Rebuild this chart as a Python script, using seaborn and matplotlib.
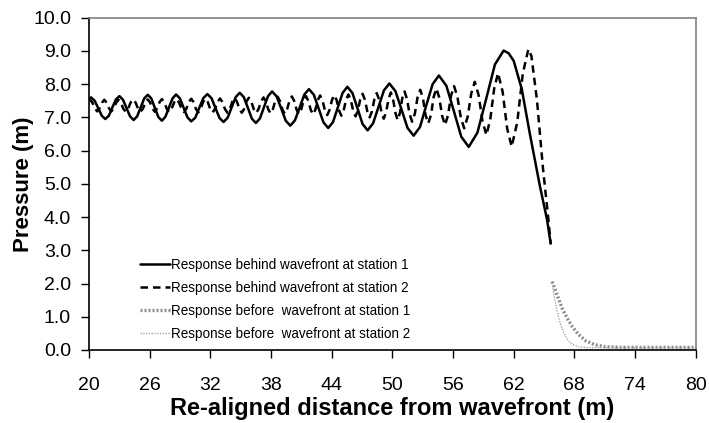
import matplotlib
matplotlib.use('Agg')
import matplotlib.pyplot as plt
import pandas as pd
import seaborn as sns

# Response behind wavefront, station 1
x_behind_1 = [20.0, 20.2, 20.55, 20.9, 21.25, 21.6, 21.95, 22.3, 22.65, 23.0,
              23.35, 23.7, 24.05, 24.4, 24.75, 25.1, 25.45, 25.8, 26.15, 26.5,
              26.85, 27.2, 27.55, 27.9, 28.25, 28.6, 28.98, 29.35, 29.73, 30.1,
              30.5, 30.9, 31.3, 31.7, 32.1, 32.5, 32.9, 33.3, 33.7, 34.1,
              34.5, 34.9, 35.3, 35.7, 36.1, 36.5, 36.9, 37.3, 37.7, 38.1,
              38.55, 39.0, 39.45, 39.9, 40.36, 40.83, 41.29, 41.75, 42.23, 42.7,
              43.18, 43.65, 44.13, 44.6, 45.08, 45.55, 46.05, 46.55, 47.05, 47.55,
              48.09, 48.63, 49.16, 49.7, 50.3, 50.9, 51.5, 52.1, 52.73, 53.35,
              53.98, 54.6, 55.34, 56.08, 56.81, 57.55, 58.41, 59.28, 60.14, 61.0,
              61.5, 62.0, 62.8, 63.6, 64.6, 65.3, 65.66]
y_behind_1 = [7.58, 7.60, 7.50, 7.28, 7.05, 6.95, 7.05, 7.30, 7.54, 7.64,
              7.53, 7.28, 7.03, 6.92, 7.03, 7.30, 7.57, 7.68, 7.57, 7.29,
              7.01, 6.90, 7.02, 7.30, 7.57, 7.69, 7.57, 7.29, 7.00, 6.88,
              6.99, 7.29, 7.58, 7.70, 7.58, 7.28, 6.98, 6.86, 6.99, 7.30,
              7.61, 7.74, 7.61, 7.29, 6.96, 6.83, 6.97, 7.31, 7.64, 7.78,
              7.63, 7.27, 6.90, 6.75, 6.91, 7.30, 7.69, 7.85, 7.68, 7.27,
              6.85, 6.68, 6.86, 7.30, 7.74, 7.92, 7.73, 7.27, 6.80, 6.61,
              6.82, 7.32, 7.81, 8.02, 7.79, 7.24, 6.68, 6.45, 6.71, 7.36,
              8.00, 8.26, 7.95, 7.19, 6.42, 6.11, 6.54, 7.56, 8.59, 9.01,
              8.93, 8.70, 7.85, 6.50, 4.92, 3.92, 3.20]

# Response behind wavefront, station 2
x_behind_2 = [20.0, 20.1, 20.33, 20.57, 20.8, 21.03, 21.27, 21.5, 21.73, 21.97,
              22.2, 22.43, 22.67, 22.9, 23.14, 23.38, 23.62, 23.86, 24.11, 24.35,
              24.59, 24.84, 25.08, 25.32, 25.56, 25.8, 26.03, 26.27, 26.5, 26.73,
              26.97, 27.2, 27.44, 27.68, 27.92, 28.16, 28.41, 28.65, 28.89, 29.14,
              29.38, 29.62, 29.86, 30.1, 30.33, 30.57, 30.8, 31.03, 31.27, 31.5,
              31.74, 31.98, 32.22, 32.46, 32.71, 32.95, 33.19, 33.44, 33.68, 33.92,
              34.16, 34.4, 34.63, 34.87, 35.1, 35.33, 35.57, 35.8, 36.04, 36.28,
              36.52, 36.76, 37.01, 37.25, 37.48, 37.72, 37.95, 38.18, 38.42, 38.65,
              38.88, 39.12, 39.35, 39.58, 39.82, 40.05, 40.28, 40.52, 40.75, 40.98,
              41.22, 41.45, 41.68, 41.92, 42.15, 42.38, 42.62, 42.85, 43.08, 43.32,
              43.55, 43.78, 44.02, 44.25, 44.48, 44.72, 44.95, 45.18, 45.42, 45.65,
              45.88, 46.12, 46.35, 46.58, 46.82, 47.05, 47.28, 47.52, 47.75, 47.98,
              48.22, 48.45, 48.68, 48.92, 49.15, 49.38, 49.62, 49.85, 50.07, 50.3,
              50.52, 50.75, 50.97, 51.2, 51.45, 51.7, 51.95, 52.22, 52.48, 52.75,
              53.02, 53.28, 53.55, 53.82, 54.08, 54.35, 54.63, 54.92, 55.2, 55.5,
              55.8, 56.1, 56.43, 56.77, 57.1, 57.45, 57.8, 58.15, 58.53, 58.92,
              59.3, 59.68, 60.07, 60.45, 60.9, 61.35, 61.8, 62.35, 62.9, 63.45,
              63.75, 64.3, 64.9, 65.4, 65.66]
y_behind_2 = [7.50, 7.53, 7.44, 7.27, 7.18, 7.27, 7.44, 7.53, 7.44, 7.27,
              7.18, 7.27, 7.44, 7.53, 7.44, 7.26, 7.17, 7.26, 7.45, 7.54,
              7.45, 7.26, 7.17, 7.26, 7.45, 7.54, 7.45, 7.26, 7.17, 7.27,
              7.46, 7.55, 7.45, 7.26, 7.16, 7.26, 7.45, 7.55, 7.45, 7.26,
              7.16, 7.26, 7.46, 7.56, 7.46, 7.25, 7.15, 7.25, 7.46, 7.56,
              7.46, 7.25, 7.15, 7.26, 7.47, 7.57, 7.46, 7.25, 7.14, 7.25,
              7.47, 7.58, 7.47, 7.25, 7.14, 7.25, 7.48, 7.59, 7.48, 7.25,
              7.13, 7.25, 7.48, 7.60, 7.48, 7.24, 7.12, 7.25, 7.50, 7.62,
              7.49, 7.24, 7.11, 7.24, 7.50, 7.63, 7.50, 7.23, 7.10, 7.24,
              7.51, 7.64, 7.50, 7.23, 7.09, 7.23, 7.52, 7.66, 7.51, 7.22,
              7.07, 7.22, 7.52, 7.67, 7.52, 7.21, 7.05, 7.21, 7.53, 7.69,
              7.53, 7.20, 7.03, 7.20, 7.54, 7.71, 7.53, 7.18, 7.00, 7.18,
              7.55, 7.73, 7.54, 7.15, 6.96, 7.16, 7.55, 7.75, 7.54, 7.13,
              6.92, 7.14, 7.57, 7.78, 7.55, 7.10, 6.87, 7.11, 7.59, 7.83,
              7.58, 7.07, 6.82, 7.08, 7.61, 7.87, 7.60, 7.05, 6.77, 7.06,
              7.65, 7.94, 7.62, 6.99, 6.67, 7.02, 7.72, 8.07, 7.67, 6.87,
              6.47, 6.94, 7.87, 8.33, 7.78, 6.67, 6.12, 6.85, 8.32, 9.05,
              8.85, 7.52, 5.45, 4.02, 3.20]

# Response before wavefront
x_before_1 = [65.8, 66.0, 66.3, 66.8, 67.3, 67.8, 68.4, 69.1, 70.0, 71.0, 72.5, 80.0]
y_before_1 = [2.06, 1.90, 1.65, 1.25, 0.95, 0.70, 0.47, 0.28, 0.16, 0.10, 0.08, 0.08]
x_before_2 = [65.8, 66.0, 66.3, 66.6, 66.9, 67.3, 67.8, 68.5, 69.5, 80.0]
y_before_2 = [2.02, 1.62, 1.15, 0.80, 0.55, 0.32, 0.17, 0.09, 0.07, 0.07]

labels = ['Response behind wavefront at station 1',
          'Response behind wavefront at station 2',
          'Response before  wavefront at station 1',
          'Response before  wavefront at station 2']

x_ticks = list(range(20, 81, 6))
y_ticks = [i * 1.0 for i in range(11)]

sns.set_theme(style='white')
plt.rcParams['font.family'] = ['Liberation Sans', 'DejaVu Sans']
plt.rcParams['text.color'] = 'black'
plt.rcParams['axes.labelcolor'] = 'black'

fig = plt.figure(figsize=(7.09, 4.23), dpi=100)
ax = fig.add_axes([0.1257, 0.1726, 0.8555, 0.7856])

sns.lineplot(x=x_behind_1, y=y_behind_1, ax=ax, color='black', linewidth=1.8,
             sort=False, label=labels[0])
sns.lineplot(x=x_behind_2, y=y_behind_2, ax=ax, color='black', linewidth=1.8,
             linestyle=(0, (3, 2)), sort=False, label=labels[1])
sns.lineplot(x=x_before_1, y=y_before_1, ax=ax, color='#8c8c8c', linewidth=2.4,
             linestyle=(0, (0.6, 0.6)), sort=False, label=labels[2])
sns.lineplot(x=x_before_2, y=y_before_2, ax=ax, color='#a8a8a8', linewidth=1.0,
             linestyle=(0, (1, 1)), sort=False, label=labels[3])

ax.set_xlim(20, 80)
ax.set_ylim(0, 10)
ax.set_xticks(x_ticks)
ax.set_yticks(y_ticks)
ax.set_yticklabels(['%.1f' % v for v in y_ticks])
ax.tick_params(axis='both', which='major', labelsize=14, colors='black',
               direction='out', length=6, width=1)
ax.tick_params(axis='x', pad=13.5, bottom=True)
ax.tick_params(axis='y', pad=7, left=True)

ax.set_xlabel('Re-aligned distance from wavefront (m)', fontsize=17,
              fontweight='bold', labelpad=2, color='black')
ax.set_ylabel('Pressure (m)', fontsize=16, fontweight='bold', labelpad=-1,
              color='black')

for side in ['left', 'bottom']:
    ax.spines[side].set_color('black')
    ax.spines[side].set_linewidth(1.2)
for side in ['top', 'right']:
    ax.spines[side].set_color('#808080')
    ax.spines[side].set_linewidth(1.2)

leg = ax.legend(loc='upper left', bbox_to_anchor=(0.084, 0.277), frameon=False,
                fontsize=9.75, handlelength=2.2, handletextpad=0.1,
                labelspacing=0.67, borderpad=0, borderaxespad=0)
for t in leg.get_texts():
    t.set_color('black')

fig.savefig('out.png', dpi=100)
